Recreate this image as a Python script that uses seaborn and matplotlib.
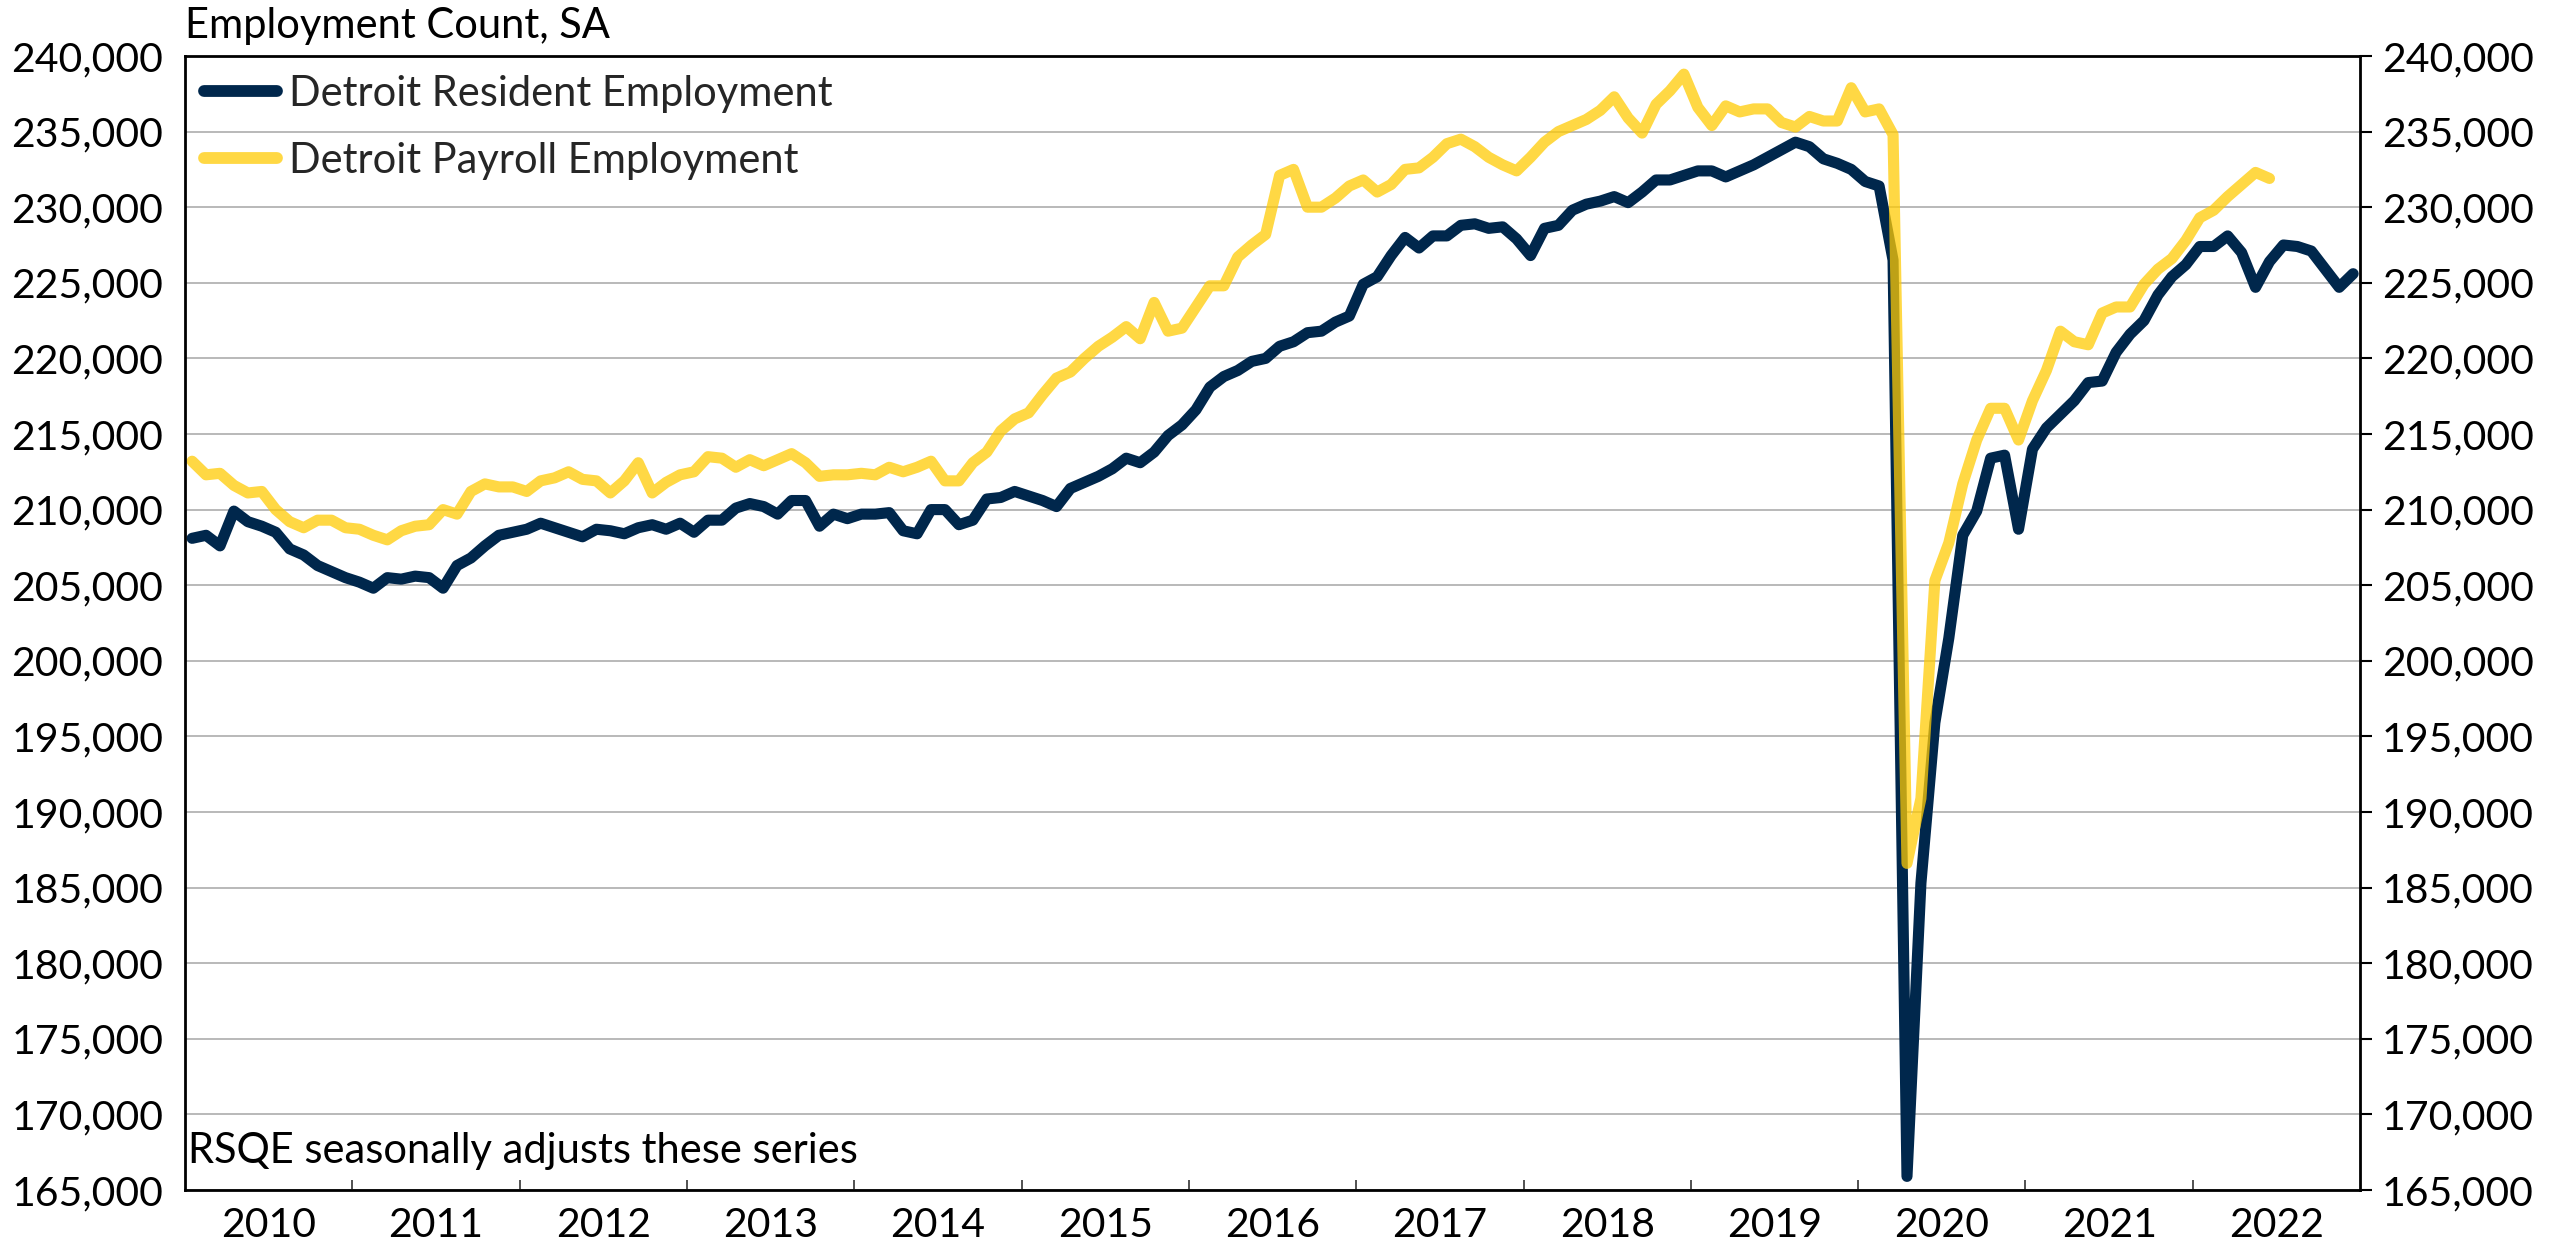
import numpy as np
import pandas as pd
import seaborn as sns
import matplotlib.pyplot as plt
import matplotlib.ticker as ticker
from matplotlib.lines import Line2D

# monthly values, Jan 2010 onward
resident = [
    208100, 208300, 207600, 209900, 209200, 208900, 208500, 207400, 207000, 206300, 205900, 205500,  # 2010
    205200, 204800, 205500, 205400, 205600, 205500, 204800, 206300, 206800, 207600, 208300, 208500,  # 2011
    208700, 209100, 208800, 208500, 208200, 208700, 208600, 208400, 208800, 209000, 208700, 209100,  # 2012
    208500, 209300, 209300, 210100, 210400, 210200, 209700, 210600, 210600, 208900, 209700, 209400,  # 2013
    209700, 209700, 209800, 208600, 208400, 210000, 210000, 209000, 209300, 210700, 210800, 211200,  # 2014
    210900, 210600, 210200, 211400, 211800, 212200, 212700, 213400, 213100, 213800, 214900, 215600,  # 2015
    216600, 218100, 218800, 219200, 219800, 220000, 220800, 221100, 221700, 221800, 222400, 222800,  # 2016
    224900, 225400, 226800, 228000, 227300, 228100, 228100, 228800, 228900, 228600, 228700, 227900,  # 2017
    226800, 228600, 228800, 229800, 230200, 230400, 230700, 230300, 231000, 231800, 231800, 232100,  # 2018
    232400, 232400, 232000, 232400, 232800, 233300, 233800, 234300, 234000, 233200, 232900, 232500,  # 2019
    231700, 231400, 226500, 165900, 185300, 195900, 201500, 208300, 209900, 213400, 213600, 208700,  # 2020
    214000, 215400, 216300, 217200, 218400, 218500, 220400, 221600, 222500, 224200, 225400, 226200,  # 2021
    227400, 227400, 228100, 227000, 224700, 226400, 227500, 227400, 227100, 225900, 224700, 225600,  # 2022
]

payroll = [
    213200, 212300, 212400, 211600, 211100, 211200, 210000, 209200, 208800, 209300, 209300, 208800,  # 2010
    208700, 208300, 208000, 208600, 208900, 209000, 210000, 209700, 211200, 211700, 211500, 211500,  # 2011
    211200, 211900, 212100, 212500, 212000, 211900, 211100, 211900, 213100, 211100, 211800, 212300,  # 2012
    212500, 213500, 213400, 212800, 213300, 212900, 213300, 213700, 213100, 212200, 212300, 212300,  # 2013
    212400, 212300, 212800, 212500, 212800, 213200, 211900, 211900, 213100, 213800, 215200, 216000,  # 2014
    216400, 217600, 218700, 219100, 220000, 220800, 221400, 222100, 221300, 223700, 221800, 222000,  # 2015
    223400, 224800, 224800, 226700, 227500, 228200, 232100, 232500, 230000, 230000, 230600, 231400,  # 2016
    231800, 231000, 231500, 232500, 232600, 233300, 234200, 234500, 234000, 233300, 232800, 232400,  # 2017
    233300, 234300, 235000, 235400, 235800, 236400, 237300, 235900, 234900, 236800, 237700, 238800,  # 2018
    236600, 235400, 236700, 236300, 236500, 236500, 235600, 235300, 236000, 235700, 235700, 237900,  # 2019
    236300, 236500, 234800, 186600, 190900, 205300, 207800, 211700, 214600, 216700, 216700, 214600,  # 2020
    217200, 219200, 221800, 221100, 220900, 223000, 223400, 223400, 224900, 225900, 226600, 227800,  # 2021
    229300, 229800, 230700, 231500, 232300, 231900,                                                  # 2022
]

years = list(range(2010, 2023))
series_names = ["Detroit Resident Employment", "Detroit Payroll Employment"]
navy = "#00274C"
maize = "#FFCB05"

n = len(resident)
df = pd.DataFrame({"month": np.arange(n) + 0.5})
df[series_names[0]] = resident
df[series_names[1]] = payroll + [np.nan] * (n - len(payroll))

sns.set_theme(style="white")
plt.rcParams['font.family'] = ['Lato', 'DejaVu Sans']
fs = 30
tick_fs = 29.5

fig = plt.figure(figsize=(25.57, 12.44), dpi=100)
ax = fig.add_axes([0.0724, 0.0434, 0.8506, 0.9116])

sns.lineplot(data=df, x="month", y=series_names[0], color=navy, lw=8, ax=ax)
sns.lineplot(data=df, x="month", y=series_names[1], color=maize, alpha=0.75, lw=8, ax=ax)

ax.set_xlim(0, 12 * len(years))
ax.set_ylim(165000, 240000)
ax.set_xlabel("")
ax.set_ylabel("")

# y axis: labels on both sides, tick marks only on the right
ax.yaxis.set_major_locator(ticker.MultipleLocator(5000))
ax.yaxis.set_major_formatter(ticker.StrMethodFormatter("{x:,.0f}"))
ax.tick_params(axis="y", which="major", left=False, right=True, labelleft=True, labelright=True,
               direction="out", length=8.6, width=1.5, pad=7, labelsize=tick_fs, colors="black")

# x axis: year labels centred, small inward ticks at year boundaries
ax.set_xticks([12 * k + 6 for k in range(len(years))])
ax.set_xticklabels([str(y) for y in years])
ax.set_xticks([12 * k for k in range(1, len(years))], minor=True)
ax.tick_params(axis="x", which="major", length=0, pad=12, labelsize=tick_fs, colors="black")
ax.tick_params(axis="x", which="minor", bottom=True, direction="in", length=7, width=1.2, color="#333333")

ax.grid(axis="y", color="#a6a6a6", lw=1.1)
ax.set_axisbelow(True)
for s in ax.spines.values():
    s.set_visible(True)
    s.set_color("black")
    s.set_linewidth(2)

handles = [Line2D([], [], color=navy, lw=8.5, solid_capstyle="round"),
           Line2D([], [], color=maize, alpha=0.75, lw=8.5, solid_capstyle="round")]
ax.legend(handles, series_names, loc="upper left", bbox_to_anchor=(0, 1), frameon=False,
          fontsize=fs, handlelength=1.75, handletextpad=0.3, labelspacing=0.7,
          borderaxespad=0.2, borderpad=0.25)

fig.text(0.0724, 1 - 26 / 1244, "Employment Count, SA", ha="left", va="center", fontsize=fs, color="black")
fig.text(188 / 2557, 1 - 1151 / 1244, "RSQE seasonally adjusts these series", ha="left", va="center",
         fontsize=fs, color="black")

fig.savefig("out.png", dpi=100)
